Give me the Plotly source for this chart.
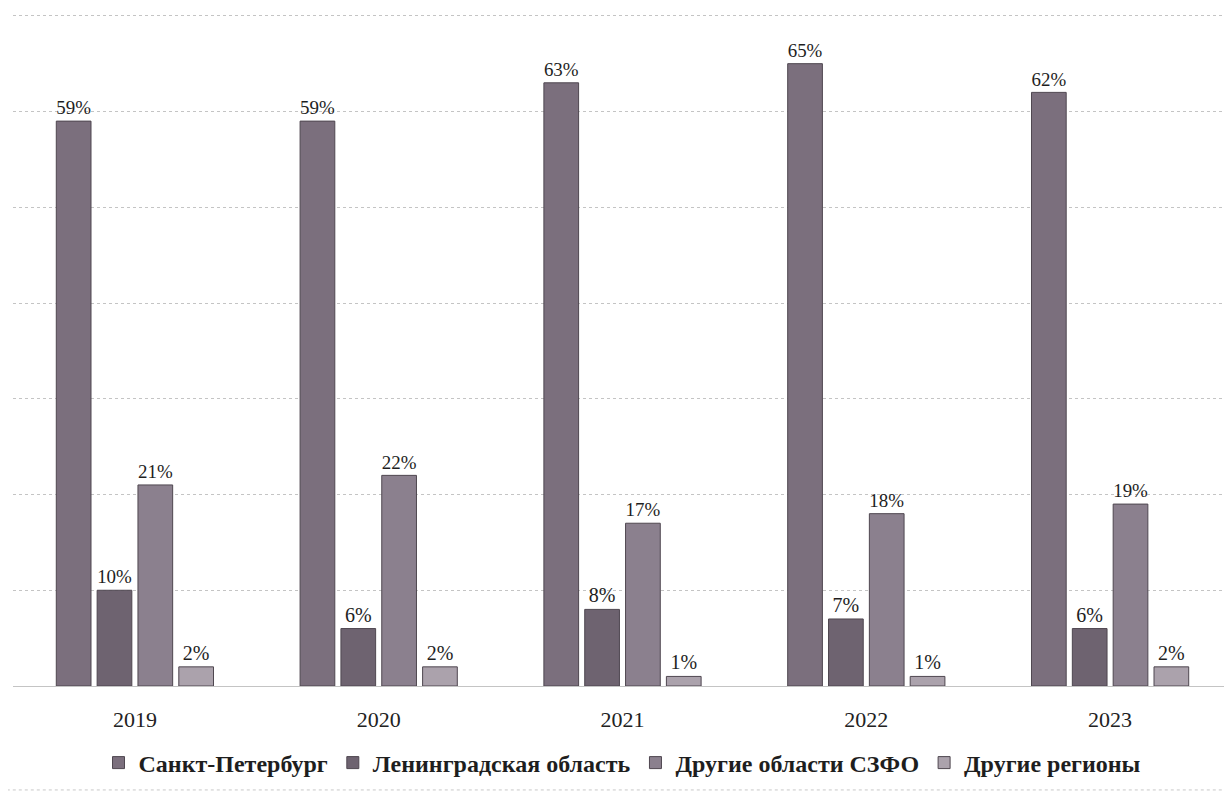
import plotly.graph_objects as go

years = ["2019", "2020", "2021", "2022", "2023"]
series_names = ["Санкт-Петербург", "Ленинградская область", "Другие области СЗФО", "Другие регионы"]
spb = [59, 59, 63, 65, 62]
lo = [10, 6, 8, 7, 6]
szfo = [21, 22, 17, 18, 19]
other = [2, 2, 1, 1, 2]
series_values = [spb, lo, szfo, other]
colors = ["#7b6f7d", "#6e6370", "#8b808e", "#aba2ac"]

fig = go.Figure()
for name, vals, col in zip(series_names, series_values, colors):
    fig.add_trace(go.Bar(
        x=years, y=vals, name="<b>" + name + "</b>",
        marker=dict(color=col, line=dict(color="#4f4750", width=1)),
        text=[f"{v}%" for v in vals], textposition="outside",
        textfont=dict(family="Liberation Serif", size=20, color="#1e1e1e"),
        cliponaxis=False,
    ))

# page has an 8px body margin, so the figure is made 8px smaller
W, H = 1224, 784
fig.update_layout(
    width=W, height=H,
    margin=dict(l=5, r=0, t=3, b=106, autoexpand=False),
    paper_bgcolor="white", plot_bgcolor="white",
    barmode="group", bargap=0.33, bargroupgap=0.15,
    showlegend=True,
    legend=dict(orientation="h", x=0.5, xanchor="center",
                yref="container", y=1 - 755 / H, yanchor="middle",
                font=dict(family="Liberation Serif", size=24, color="#1e1e1e"),
                itemwidth=30, traceorder="normal"),
    xaxis=dict(showgrid=False, showline=False, ticks="", automargin=False,
               tickfont=dict(family="Liberation Serif", size=22, color="#222"),
               ticklabelstandoff=18),
    yaxis=dict(range=[0, 70.5], dtick=10, showticklabels=False, showline=False,
               automargin=False,
               gridcolor="#c4c4c4", griddash="dot", gridwidth=1, zeroline=True,
               zerolinecolor="#c4c4c4", zerolinewidth=1),
    font=dict(family="Liberation Serif"),
)
fig.add_shape(type="line", xref="paper", yref="paper", x0=-0.01, x1=1.0, y0=-0.154, y1=-0.154,
              line=dict(color="#c8c8c8", width=1, dash="dot"))
fig.write_html("out.html")
